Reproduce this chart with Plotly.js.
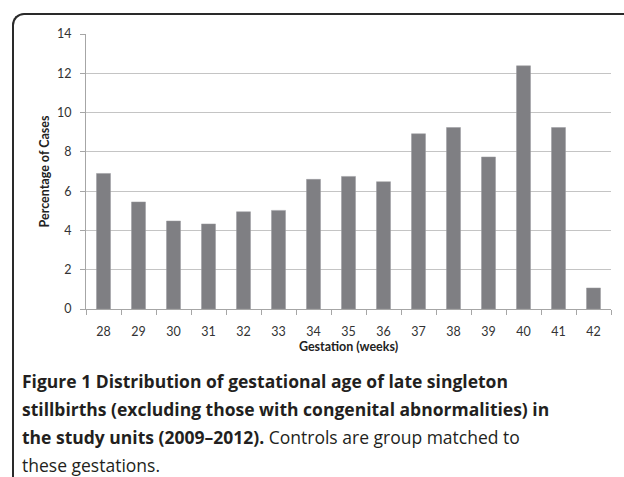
<!DOCTYPE html>
<html>
<head>
<meta charset="utf-8">
<script src="https://cdn.plot.ly/plotly-3.0.1.min.js"></script>
<style>
  html, body { margin: 0; padding: 0; background: #fff; }
  #wrap { position: relative; width: 624px; height: 477px; overflow: hidden; }
  #frame { position: absolute; left: 12px; top: 13px; width: 700px; height: 520px;
           border-left: 2px solid #2a2a2a; border-top: 2px solid #2a2a2a;
           border-top-left-radius: 12px; box-sizing: border-box; pointer-events: none; }
  #chart { position: absolute; left: 0; top: 0; width: 624px; height: 477px; }
</style>
</head>
<body>
<div id="wrap">
  <div id="chart"></div>
  <div id="frame"></div>
</div>
<script>
const weeks = ['28','29','30','31','32','33','34','35','36','37','38','39','40','41','42'];
const percentages = [6.9, 5.45, 4.48, 4.33, 4.95, 5.02, 6.6, 6.75, 6.48, 8.92, 9.24, 7.74, 12.38, 9.24, 1.07];
const yTitle = 'Percentage of Cases';
const xTitle = 'Gestation (weeks)';
const captionLines = [
  '<b>Figure 1 Distribution of gestational age of late singleton</b>',
  '<b>stillbirths (excluding those with congenital abnormalities) in</b>',
  '<b>the study units (2009–2012).</b> Controls are group matched to',
  'these gestations.'
];

const L = 86, R = 13, T = 34, B = 168, H = 477;
const plotH = H - T - B;
function py(p) { return (H - B - p) / plotH; }

const annotations = captionLines.map((t, i) => ({
  text: t, xref: 'paper', yref: 'paper',
  x: (20 - L) / (624 - L - R), y: py(381 + i * 28),
  xanchor: 'left', yanchor: 'middle', showarrow: false,
  font: { family: '"Open Sans", sans-serif', size: 17.5, color: '#231f20' }
}));

const trace = {
  type: 'bar', x: weeks, y: percentages,
  marker: { color: '#7f7f83', line: { color: '#9a9a9e', width: 0.5 } },
  hoverinfo: 'none'
};

const layout = {
  width: 624, height: 477,
  margin: { l: L, r: R, t: T, b: B },
  paper_bgcolor: '#fff', plot_bgcolor: '#fff',
  showlegend: false, bargap: 0.6,
  font: { family: 'Lato, sans-serif', size: 12.5, color: '#333' },
  xaxis: {
    type: 'category', tickson: 'boundaries', ticks: 'outside', ticklen: 5,
    tickcolor: '#a6a6a6', showline: true, linecolor: '#a6a6a6', linewidth: 1,
    showgrid: false, zeroline: false, tickfont: { size: 12.5, color: '#333' },
    ticklabelstandoff: 11,
    title: { text: '<b>' + xTitle + '</b>', font: { size: 12.5, color: '#222' }, standoff: 3 }
  },
  yaxis: {
    range: [0, 14], dtick: 2, ticks: 'outside', ticklen: 5, tickcolor: '#a6a6a6',
    showline: true, linecolor: '#a6a6a6', linewidth: 1,
    showgrid: true, gridcolor: '#c4c4c4', gridwidth: 1, zeroline: false,
    tickfont: { size: 12.5, color: '#333' }, ticklabelstandoff: 6,
    title: { text: '<b>' + yTitle + '</b>', font: { size: 12.5, color: '#222' }, standoff: 4 }
  },
  annotations: annotations
};

Plotly.newPlot('chart', [trace], layout, { displayModeBar: false, staticPlot: true });
</script>
</body>
</html>
